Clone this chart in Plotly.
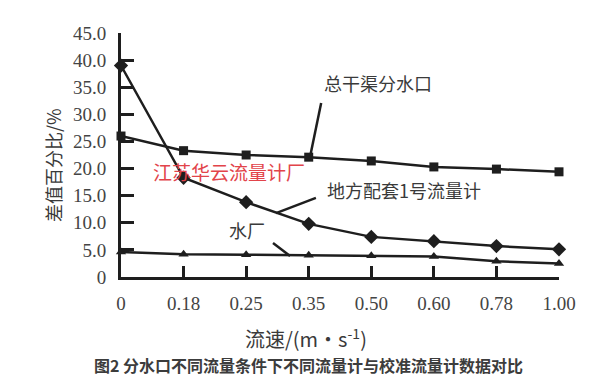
import plotly.graph_objects as go

speeds = ["0", "0.18", "0.25", "0.35", "0.50", "0.60", "0.78", "1.00"]
main_canal = [26.0, 23.3, 22.5, 22.1, 21.4, 20.3, 19.9, 19.4]   # 总干渠分水口
local_meter = [39.0, 18.3, 13.8, 9.8, 7.4, 6.6, 5.7, 5.1]     # 地方配套1号流量计
water_plant = [4.6, 4.2, 4.1, 4.0, 3.9, 3.8, 2.9, 2.5]       # 水厂
y_ticks = [0, 5, 10, 15, 20, 25, 30, 35, 40, 45]
y_ticktext = ["0"] + [f"{v:.1f}" for v in y_ticks[1:]]

xs = list(range(len(speeds)))
LINE = "#1e1e1e"
CJK = "Noto Sans CJK SC"
SERIF = "Liberation Serif"

fig = go.Figure()
fig.add_trace(go.Scatter(x=xs, y=main_canal, mode="lines+markers",
                         line=dict(color=LINE, width=2.5),
                         marker=dict(symbol="square", size=9, color=LINE),
                         name="总干渠分水口", cliponaxis=False))
fig.add_trace(go.Scatter(x=xs, y=local_meter, mode="lines+markers",
                         line=dict(color=LINE, width=2.5),
                         marker=dict(symbol="diamond", size=11, color=LINE),
                         name="地方配套1号流量计", cliponaxis=False))
fig.add_trace(go.Scatter(x=xs, y=water_plant, mode="lines+markers",
                         line=dict(color=LINE, width=2.5),
                         marker=dict(symbol="triangle-up", size=9, color=LINE),
                         name="水厂", cliponaxis=False))

txt = dict(family=CJK, size=18, color="#3a3a3a")
ann = [
    dict(x=0.587, y=0.795, text="总干渠分水口", font=txt),
    dict(x=0.646, y=0.357, text="地方配套1号流量计", font=txt),
    dict(x=0.288, y=0.193, text="水厂", font=txt),
    dict(x=0.247, y=0.434, text="江苏华云流量计厂",
         font=dict(family=CJK, size=19, color="#e2444a")),
    dict(x=-0.155, y=0.459, text="差值百分比/%", textangle=-90,
         font=dict(family=CJK, size=18, color="#3a3a3a")),
    dict(x=0.422, y=-0.25, text="流速/(m•s<sup>-1</sup>)",
         font=dict(family=CJK, size=20, color="#3a3a3a")),
    dict(x=0.429, y=-0.361, text="<b>图2 分水口不同流量条件下不同流量计与校准流量计数据对比</b>",
         font=dict(family=CJK, size=16, color="#3c3c3c")),
]
for a in ann:
    a.update(xref="paper", yref="paper", showarrow=False,
             xanchor="center", yanchor="middle")
fig.update_layout(annotations=ann)

leaders = [
    (0.457, 0.713, 0.432, 0.496),
    (0.354, 0.262, 0.445, 0.324),
    (0.347, 0.139, 0.386, 0.086),
]
for x0, y0, x1, y1 in leaders:
    fig.add_shape(type="line", xref="paper", yref="paper",
                  x0=x0, y0=y0, x1=x1, y1=y1,
                  line=dict(color=LINE, width=2.5))

fig.update_xaxes(range=[0, len(speeds) - 1], tickvals=xs, ticktext=speeds,
                 showgrid=False, zeroline=False, showline=True,
                 linecolor=LINE, linewidth=3, ticks="inside", ticklen=11,
                 tickwidth=2.5, tickcolor=LINE, ticklabelstandoff=7,
                 tickfont=dict(family=SERIF, size=19, color="#444"))
fig.update_yaxes(range=[0, 45], tickvals=y_ticks, ticktext=y_ticktext,
                 showgrid=False, zeroline=False, showline=True,
                 linecolor=LINE, linewidth=3, ticks="inside", ticklen=13,
                 tickwidth=2.5, tickcolor=LINE, ticklabelstandoff=8,
                 tickfont=dict(family=SERIF, size=19, color="#444"))

fig.update_layout(width=600, height=379, showlegend=False,
                  margin=dict(l=113, r=49, t=25, b=110),
                  paper_bgcolor="white", plot_bgcolor="white")

fig.write_html("out.html")
